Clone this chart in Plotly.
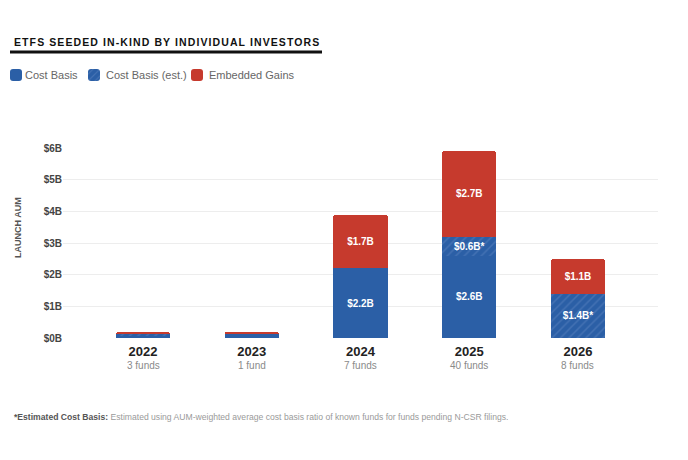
import plotly.graph_objects as go

# data ($B)
years = ["2022", "2023", "2024", "2025", "2026"]
fund_counts = ["3 funds", "1 fund", "7 funds", "40 funds", "8 funds"]
cost_basis = [0.08, 0.14, 2.2, 2.6, 0.0]
cost_basis_est = [0.05, 0.0, 0.0, 0.6, 1.4]
embedded_gains = [0.07, 0.06, 1.7, 2.7, 1.1]
totals = [0.2, 0.2, 3.9, 5.9, 2.5]
series_names = ["Cost Basis", "Cost Basis (est.)", "Embedded Gains"]

BLUE = "#2b5fa6"
RED = "#c63a2d"
FONT = "Liberation Sans, Arial, sans-serif"

# page is drawn with an 8px body margin, so the figure is 8px smaller
W, H = 680, 452
X_RANGE = [-0.736, 4.736]


def px_x(p):
    # page pixel -> paper x (plot area spans page x 63..658)
    return (p - 63) / 595


def px_y(p):
    # page pixel -> paper y (plot area spans page y 148..338)
    return (338 - p) / 190


def cat_x(i):
    # category index -> paper x
    return (i - X_RANGE[0]) / (X_RANGE[1] - X_RANGE[0])


def lbl(v, star=""):
    # only label segments that are big enough to hold text
    return f"${v:.1f}B{star}" if v >= 0.5 else ""


fig = go.Figure()
fig.add_trace(go.Bar(
    x=years, y=cost_basis, name="", legend="legend",
    marker=dict(color=BLUE, line=dict(width=0)),
    text=[lbl(v) for v in cost_basis],
))
fig.add_trace(go.Bar(
    x=years, y=cost_basis_est, name="", legend="legend2",
    marker=dict(color=BLUE, line=dict(width=0),
                pattern=dict(shape="/", fgcolor="#5b84c0", bgcolor=BLUE, size=6, solidity=0.25)),
    text=[lbl(v, "*") for v in cost_basis_est],
))
fig.add_trace(go.Bar(
    x=years, y=embedded_gains, name="", legend="legend3",
    marker=dict(color=RED, line=dict(width=0)),
    text=[lbl(v) for v in embedded_gains],
))
fig.update_traces(textposition="inside", insidetextanchor="middle",
                  textfont=dict(color="white", size=10, family=FONT, weight="bold"),
                  width=0.5, hoverinfo="skip")

# totals above each bar, fund counts under the years
for i, (yr, t, f) in enumerate(zip(years, totals, fund_counts)):
    fig.add_annotation(x=yr, y=t, text=f"<b>${t:.1f}B</b>", showarrow=False,
                       yanchor="bottom", yshift=2, font=dict(size=11, color="#222"))
    fig.add_annotation(xref="paper", yref="paper", x=cat_x(i), y=px_y(365), text=f, showarrow=False,
                       xanchor="center", yanchor="middle", font=dict(size=10, color="#8a8a8a"))

# legend labels
for name, p in zip(series_names, [23, 104, 207]):
    fig.add_annotation(xref="paper", yref="paper", x=px_x(p), y=px_y(75), xanchor="left", yanchor="middle",
                       text=name, showarrow=False, font=dict(size=11, color="#666"))

fig.add_annotation(xref="paper", yref="paper", x=px_x(12), y=px_y(42), xanchor="left", yanchor="middle",
                   text="<span style='letter-spacing:1.1px'><b>ETFS SEEDED IN-KIND BY INDIVIDUAL INVESTORS</b></span>",
                   showarrow=False, font=dict(size=10.5, color="#111"))
fig.add_shape(type="line", xref="paper", yref="paper", x0=px_x(10), x1=px_x(322), y0=px_y(52), y1=px_y(52),
              line=dict(color="#111", width=3))
fig.add_annotation(xref="paper", yref="paper", x=px_x(18), y=px_y(228), xanchor="center", yanchor="middle",
                   textangle=-90, text="<b>LAUNCH AUM</b>", showarrow=False, font=dict(size=9, color="#555"))
fig.add_annotation(xref="paper", yref="paper", x=px_x(12), y=px_y(417), xanchor="left", yanchor="middle",
                   text="<b>*Estimated Cost Basis:</b> <span style='color:#9a9a9a'>Estimated using AUM-weighted "
                        "average cost basis ratio of known funds for funds pending N-CSR filings.</span>",
                   showarrow=False, font=dict(size=8.6, color="#555"))

leg = dict(orientation="h", y=px_y(75), xanchor="left", yanchor="middle",
           bgcolor="rgba(0,0,0,0)", font=dict(size=11), itemwidth=30)
fig.update_layout(
    width=W, height=H,
    margin=dict(l=55, r=W - 650, t=140, b=H - 330, autoexpand=False),
    paper_bgcolor="white", plot_bgcolor="white",
    font=dict(family=FONT, color="#333"),
    barmode="stack", barcornerradius=3,
    showlegend=True,
    legend=dict(leg, x=px_x(-4)),
    legend2=dict(leg, x=px_x(74)),
    legend3=dict(leg, x=px_x(177)),
    xaxis=dict(type="category", range=X_RANGE, tickmode="array", tickvals=years,
               ticktext=[f"<b>{y}</b>" for y in years], ticklabelstandoff=4,
               tickfont=dict(size=13, color="#222"), showgrid=False, showline=False, ticks=""),
    yaxis=dict(range=[0, 6.0], tickvals=[0, 1, 2, 3, 4, 5, 6],
               ticktext=[f"<b>${v}B</b>" for v in range(7)],
               tickfont=dict(size=10, color="#444"), gridcolor="#ededed", zeroline=False,
               showline=False, ticks=""),
)

fig.write_html("out.html")
